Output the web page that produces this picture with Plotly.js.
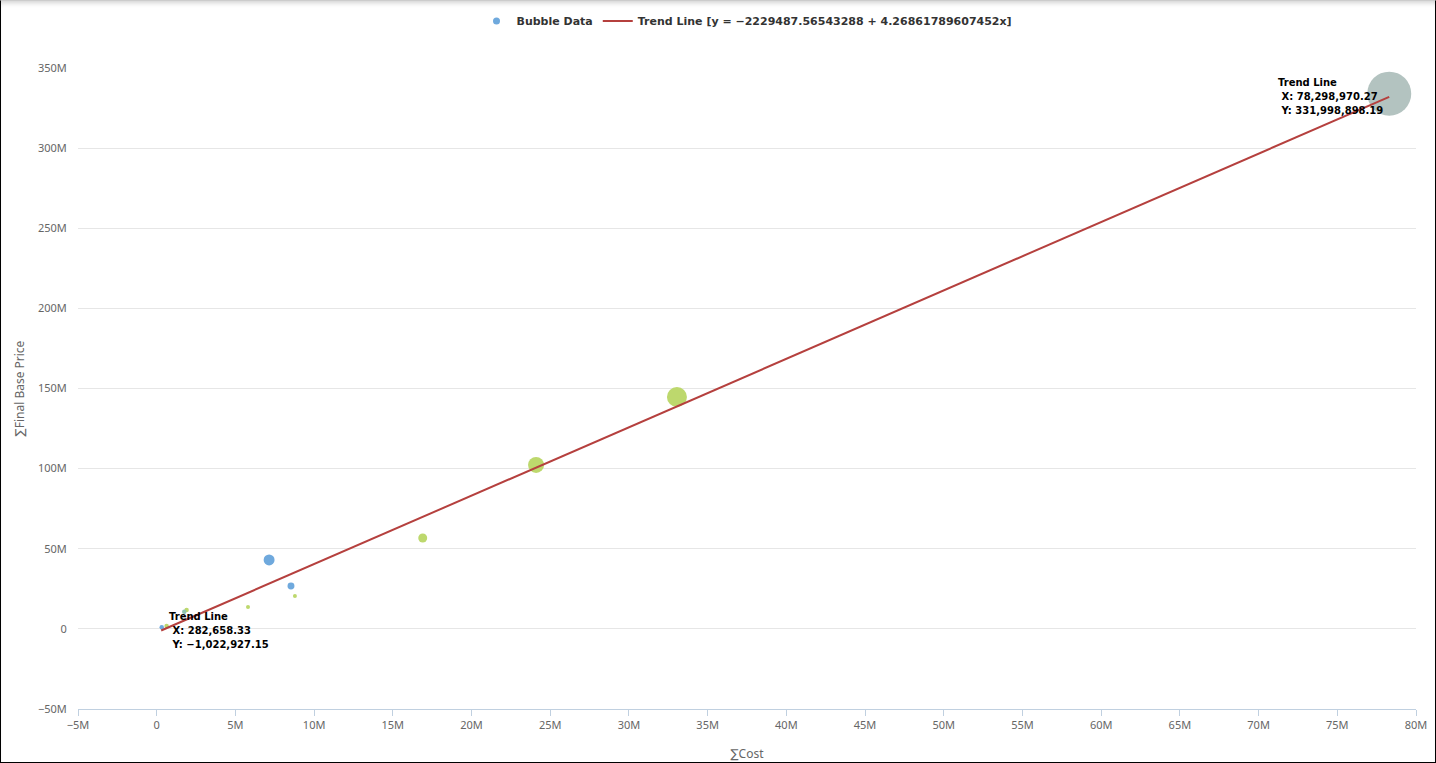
<!DOCTYPE html>
<html>
<head>
<meta charset="utf-8">
<script src="https://cdn.plot.ly/plotly-3.0.1.min.js"></script>
<style>
  html, body { margin: 0; padding: 0; background: #fff; }
  #wrap { position: relative; width: 1436px; height: 763px; }
  #chart { position: absolute; left: 0; top: 0; width: 1436px; height: 763px; }
  #frame { position: absolute; left: 0; top: 0; width: 1434px; height: 761px;
           border: 1px solid #000; border-top-color: #ccc; pointer-events: none;
           box-shadow: inset 0 5px 5px -3px rgba(0,0,0,0.18); }
</style>
</head>
<body>
<div id="wrap">
  <div id="chart"></div>
  <div id="frame"></div>
</div>
<script>
// ---- data ----
const costX   = [78300000, 33050000, 24100000, 16900000, 7140000, 8530000, 8780000, 5800000, 1900000, 1750000, 630000, 320000];
const priceY  = [334000000, 144700000, 102300000, 56700000, 43000000, 26800000, 20500000, 13700000, 11800000, 10700000, 1800000, 1000000];
const bubbleValue = [484, 100, 64, 20, 30, 12, 4, 4, 5, 5, 5, 5];
const bubbleGroup = ['C', 'B', 'B', 'B', 'A', 'A', 'B', 'B', 'B', 'D', 'B', 'A'];

const trendX = [282658.33, 78298970.27];
const trendY = [-1022927.15, 331998898.19];
const trendLabel = 'Trend Line [y = \u22122229487.56543288 + 4.26861789607452x]';
const endLabelsX = ['282,658.33', '78,298,970.27'];
const endLabelsY = ['\u22121,022,927.15', '331,998,898.19'];

const groupColors = { A: '#6fa9dd', B: '#bdd86d', C: '#b3c3c0', D: '#8fc4b0' };

const maxDiam = 44;
const maxVal = Math.max(...bubbleValue);

const FONT = '"Noto Sans", "DejaVu Sans", sans-serif';
const BOLDFONT = '"DejaVu Sans", "Noto Sans", sans-serif';

const bubbleTrace = {
  type: 'scatter', mode: 'markers',
  x: costX, y: priceY,
  showlegend: false,
  marker: {
    size: bubbleValue,
    sizemode: 'area',
    sizeref: 2 * maxVal / (maxDiam * maxDiam),
    color: bubbleGroup.map(g => groupColors[g]),
    opacity: 1,
    line: { width: 0 }
  },
  hoverinfo: 'skip'
};

const bubbleLegend = {
  type: 'scatter', mode: 'markers',
  x: [null], y: [null],
  name: '<b>Bubble Data</b>',
  marker: { size: 7, color: groupColors.A },
  hoverinfo: 'skip'
};

const trendTrace = {
  type: 'scatter', mode: 'lines',
  x: trendX, y: trendY,
  name: '<b>' + trendLabel + '</b>',
  line: { color: '#b5403e', width: 2 },
  hoverinfo: 'skip'
};

function labelText(i) {
  const s = '<span style="font-size:10px"><b>';
  const e = '</b></span>';
  return s + 'Trend Line' + e + '<br>' + s + '&nbsp;X: ' + endLabelsX[i] + e + '<br>' + s + '&nbsp;Y: ' + endLabelsY[i] + e;
}

const layout = {
  width: 1436, height: 763,
  margin: { l: 78, r: 20, t: 68, b: 54, pad: 0 },
  paper_bgcolor: '#fff', plot_bgcolor: '#fff',
  font: { family: FONT, size: 11, color: '#666' },
  showlegend: true,
  legend: {
    orientation: 'h', x: 0.5, xanchor: 'center',
    yref: 'container', y: 1 - 21 / 763, yanchor: 'middle',
    font: { family: BOLDFONT, size: 11, color: '#333' },
    itemwidth: 30, tracegroupgap: 0
  },
  xaxis: {
    range: [-5000000, 80000000], dtick: 5000000, tick0: 0,
    tickformat: '~s',
    showgrid: false, zeroline: false,
    showline: true, linecolor: '#c0d0e0', linewidth: 1,
    ticks: 'outside', ticklen: 6, tickcolor: '#c0d0e0',
    tickfont: { family: FONT, size: 11, color: '#666' },
    title: { text: '\u2211Cost', font: { family: FONT, size: 12, color: '#666' }, standoff: 18 }
  },
  yaxis: {
    range: [-50000000, 350000000], dtick: 50000000, tick0: 0,
    tickformat: '~s',
    showgrid: true, gridcolor: '#e6e6e6', gridwidth: 1,
    zeroline: false, showline: false,
    ticks: 'outside', ticklen: 8, tickcolor: 'rgba(0,0,0,0)',
    tickfont: { family: FONT, size: 11, color: '#666' },
    title: { text: '\u2211Final Base Price', font: { family: FONT, size: 12, color: '#666' }, standoff: 10 }
  },
  annotations: [
    { x: trendX[0], y: trendY[0], xref: 'x', yref: 'y', text: labelText(0),
      showarrow: false, xanchor: 'left', yanchor: 'middle', align: 'left', xshift: 6, yshift: 0,
      font: { family: BOLDFONT, size: 10.8, color: '#000' } },
    { x: trendX[1], y: trendY[1], xref: 'x', yref: 'y', text: labelText(1),
      showarrow: false, xanchor: 'right', yanchor: 'middle', align: 'left', xshift: -4, yshift: 0,
      font: { family: BOLDFONT, size: 10.8, color: '#000' } }
  ]
};

Plotly.newPlot('chart', [bubbleTrace, bubbleLegend, trendTrace], layout, { displayModeBar: false, staticPlot: true });
</script>
</body>
</html>
